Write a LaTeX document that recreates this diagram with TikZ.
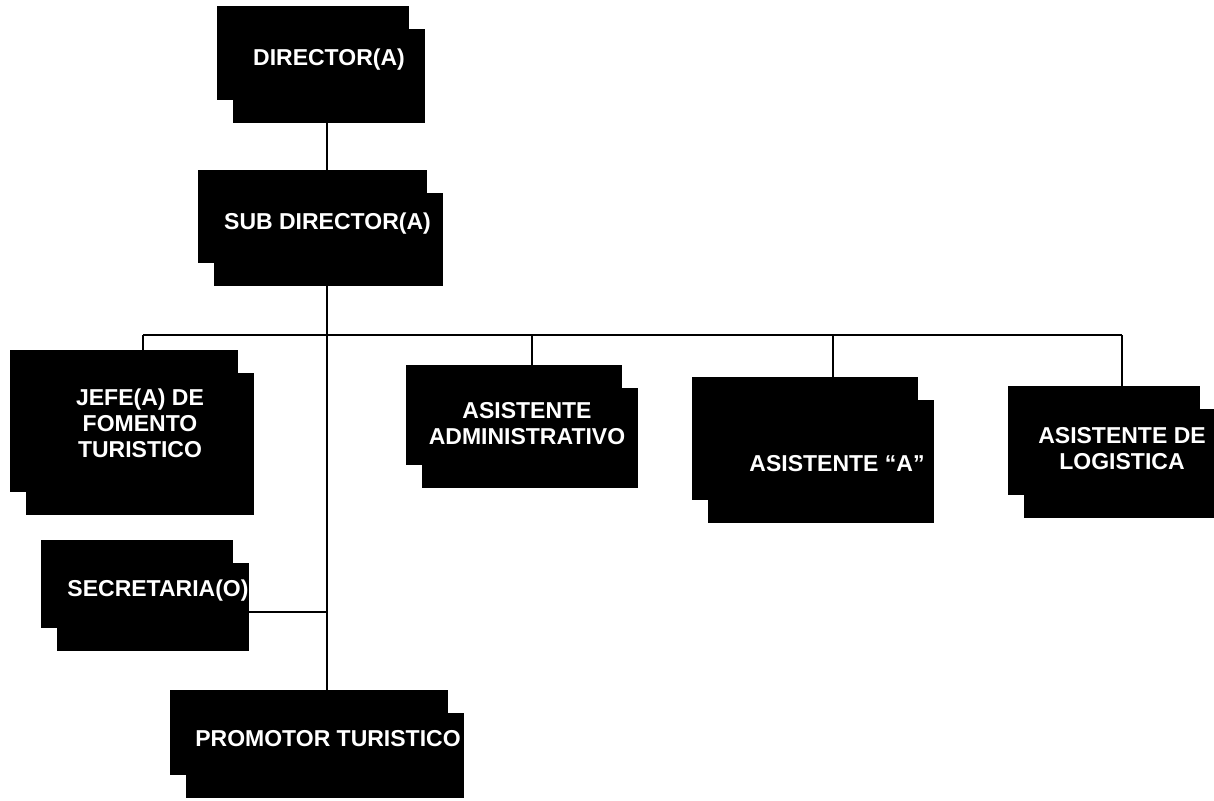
\documentclass[tikz,border=0pt]{standalone}
\usepackage{fontspec}
\setmainfont{Liberation Sans}
\usetikzlibrary{shadows,calc}
% text inside a box, shifted right by #1/2 and down by #2, not widening the box
\newcommand\orgtxt[3]{\makebox[0pt]{\hspace*{#1}\raisebox{-#2}[\height][\depth]{\begin{tabular}{@{}c@{}}#3\end{tabular}}}}
\tikzset{
  orgbox/.style={rectangle, fill=black, text=white, inner sep=0pt,
    font=\fontsize{11.5}{13}\selectfont\bfseries,
    general shadow={fill=black, shadow xshift=8pt, shadow yshift=-11.25pt}},
  link/.style={draw=black, line width=0.6pt}
}
\begin{document}
\begin{tikzpicture}[x=0.5pt,y=-0.5pt]
\useasboundingbox (0,0) rectangle (1214,800);
\coordinate (busL) at (143,335);
\coordinate (busR) at (1122,335);
\coordinate (dA) at (532,335);
\coordinate (dB) at (833,335);
\coordinate (sj) at (327,612);

\node[orgbox, minimum width=96pt, minimum height=47pt] (dir) at (313,53) {\orgtxt{16pt}{3.5pt}{DIRECTOR(A)}};
\node[orgbox, minimum width=114.5pt, minimum height=46.5pt] (sub) at (312.5,216.5) {\orgtxt{15pt}{4pt}{SUB DIRECTOR(A)}};
\node[orgbox, minimum width=114pt, minimum height=71pt] (jefe) at (124,421) {\orgtxt{16pt}{2.5pt}{JEFE(A) DE\\FOMENTO\\TURISTICO}};
\node[orgbox, minimum width=108pt, minimum height=50pt] (adm) at (514,415) {\orgtxt{13pt}{5.5pt}{ASISTENTE\\ADMINISTRATIVO}};
\node[orgbox, minimum width=113pt, minimum height=61.5pt] (asa) at (805,438.5) {\orgtxt{32pt}{14pt}{ASISTENTE “A”}};
\node[orgbox, minimum width=96pt, minimum height=54.5pt] (log) at (1104,440.5) {\orgtxt{18pt}{5.5pt}{ASISTENTE DE\\LOGISTICA}};
\node[orgbox, minimum width=96pt, minimum height=44pt] (sec) at (137,584) {\orgtxt{21pt}{3.5pt}{SECRETARIA(O)}};
\node[orgbox, minimum width=139pt, minimum height=42.5pt] (pro) at (309,732.5) {\orgtxt{19pt}{4.5pt}{PROMOTOR TURISTICO}};

% connectors
\draw[link] ([yshift=-11.25pt]dir.south -| sj) -- (sub.north -| sj);
\draw[link] ([yshift=-11.25pt]sub.south -| sj) -- (pro.north -| sj);
\draw[link] (busL) -- (busR);
\draw[link] (busL) -- (jefe.north -| busL);
\draw[link] (dA) -- (adm.north -| dA);
\draw[link] (dB) -- (asa.north -| dB);
\draw[link] (busR) -- (log.north -| busR);
\draw[link] ([xshift=8pt]sec.east |- sj) -- (sj);
\end{tikzpicture}
\end{document}
